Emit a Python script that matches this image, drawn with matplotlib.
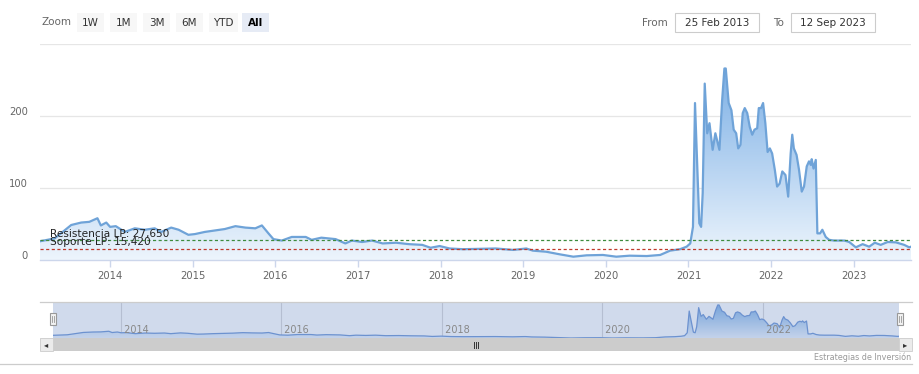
import matplotlib
matplotlib.use("Agg")
import matplotlib.pyplot as plt
import matplotlib.dates as mdates
import matplotlib.transforms as mtransforms
from matplotlib.patches import Rectangle
from matplotlib.lines import Line2D
import numpy as np
import pandas as pd

# ---------------- data ----------------
dates = [
    "2013-02-25", "2013-05-01", "2013-07-13", "2013-08-26", "2013-10-01", "2013-11-06",
    "2013-11-21", "2013-12-15", "2014-01-01", "2014-01-26", "2014-03-07", "2014-04-20",
    "2014-06-03", "2014-07-17", "2014-08-15", "2014-09-28", "2014-10-31", "2014-12-13",
    "2015-01-11", "2015-02-24", "2015-04-09", "2015-05-23", "2015-07-09", "2015-08-22",
    "2015-10-05", "2015-11-03", "2015-12-02", "2015-12-24", "2016-01-30", "2016-03-14",
    "2016-05-15", "2016-06-10", "2016-07-23", "2016-09-24", "2016-11-06", "2016-12-05",
    "2017-01-19", "2017-03-04", "2017-04-20", "2017-06-18", "2017-08-15", "2017-10-12",
    "2017-11-18", "2017-12-28", "2018-02-10", "2018-04-09", "2018-06-21", "2018-09-02",
    "2018-11-18", "2019-01-15", "2019-02-13", "2019-04-13", "2019-06-10", "2019-08-11",
    "2019-10-09", "2019-12-20", "2020-02-17", "2020-04-16", "2020-07-01", "2020-08-29",
    "2020-10-12", "2020-11-25", "2020-12-24", "2021-01-09", "2021-01-21", "2021-01-30",
    "2021-02-08", "2021-02-18", "2021-02-26", "2021-03-05", "2021-03-14", "2021-03-25",
    "2021-04-04", "2021-04-18", "2021-04-30", "2021-05-18", "2021-05-30", "2021-06-09",
    "2021-06-15", "2021-06-28", "2021-07-10", "2021-07-20", "2021-07-31", "2021-08-09",
    "2021-08-19", "2021-08-29", "2021-09-07", "2021-09-18", "2021-09-29", "2021-10-10",
    "2021-10-20", "2021-11-01", "2021-11-08", "2021-11-18", "2021-11-27", "2021-12-07",
    "2021-12-17", "2021-12-27", "2022-01-06", "2022-01-18", "2022-01-28", "2022-02-08",
    "2022-02-20", "2022-03-06", "2022-03-18", "2022-03-29", "2022-04-05", "2022-04-12",
    "2022-04-24", "2022-05-05", "2022-05-17", "2022-05-27", "2022-06-08", "2022-06-18",
    "2022-06-26", "2022-06-30", "2022-07-08", "2022-07-18", "2022-07-25", "2022-08-06",
    "2022-08-16", "2022-08-31", "2022-09-15", "2022-10-07", "2022-11-21", "2022-12-13",
    "2023-01-11", "2023-02-10", "2023-03-11", "2023-04-05", "2023-05-01", "2023-06-01",
    "2023-07-07", "2023-08-13", "2023-09-04", "2023-09-12",
]
values = [
    26, 30, 48.6, 52, 53, 58,
    48, 52, 46, 47, 39, 44,
    42, 44, 39, 45, 42, 35,
    36, 39, 41, 43, 47, 45,
    44, 48, 37, 29, 27, 32,
    32, 28, 31, 29, 23, 27,
    25, 27, 23, 24, 22, 21,
    17, 19.4, 16, 15, 15.5, 16,
    14, 16, 13, 11.5, 8, 4.6,
    6.5, 7, 4.6, 6, 5.5, 7,
    13, 15, 18.5, 23, 46, 218,
    139, 51, 46, 93, 245, 176,
    190, 153, 176, 153, 222, 266,
    266, 218, 208, 181, 176, 155,
    160, 204, 211, 204, 185, 174,
    181, 183, 211, 211, 218, 190,
    150, 155, 148, 125, 102, 106,
    123, 118, 88, 148, 174, 155,
    146, 125, 95, 102, 130, 137,
    132, 140, 127, 139, 37, 37,
    42, 32, 28, 27, 27, 25,
    17.6, 22, 18.5, 24, 21, 25,
    24.5, 21, 17.6, 18.5,
]

resistance_value = 27.65
support_value = 15.42
resistance_label = "Resistencia LP: 27,650"
support_label = "Soporte LP: 15,420"
y_tick_values = [0, 100, 200]
y_grid_values = [100, 200, 300]
x_tick_years = [2014, 2015, 2016, 2017, 2018, 2019, 2020, 2021, 2022, 2023]
nav_tick_years = [2014, 2016, 2018, 2020, 2022]
range_buttons = ["1W", "1M", "3M", "6M", "YTD", "All"]
selected_button = "All"
from_date = "25 Feb 2013"
to_date = "12 Sep 2023"
credit = "Estrategias de Inversión"

# ---------------- figure ----------------
W, H = 919, 374
fig = plt.figure(figsize=(W / 100, H / 100), dpi=100)
fig.patch.set_facecolor("white")
FONT = "DejaVu Sans"
plt.rcParams["font.family"] = [FONT]


def fx(px):
    return px / W


def fy(py):
    return 1 - py / H


x = mdates.date2num(pd.to_datetime(dates))
v = np.array(values, dtype=float)

# ---------------- main axes ----------------
L, R, T, B = 40, 911, 44, 260
ax = fig.add_axes([fx(L), fy(B), (R - L) / W, (B - T) / H])
ax.set_xlim(x[0], x[-1])
ax.set_ylim(0, 300)
ax.set_facecolor("none")

for g in y_grid_values:
    ax.axhline(g, color="#e6e6e6", lw=0.9, zorder=0)

# gradient area
vmax = v.max()
top_c = np.array([0.49, 0.69, 0.90])
bot_c = np.array([0.93, 0.96, 0.99])
n = 256
t = np.linspace(0, 1, n)[:, None]
grad = (top_c[None, :] * (1 - t) + bot_c[None, :] * t)[:, None, :]
fill = ax.fill_between(x, v, 0, color="none", lw=0)
im = ax.imshow(grad, extent=[x[0], x[-1], 0, vmax], aspect="auto", zorder=1,
               origin="upper", interpolation="bilinear")
path = fill.get_paths()[0]
im.set_clip_path(path, transform=ax.transData)
ax.set_xlim(x[0], x[-1])
ax.set_ylim(0, 300)

ax.plot(x, v, color="#6fa3d8", lw=1.6, zorder=3, solid_joinstyle="round")

ax.axhline(resistance_value, color="#3d8b3d", lw=0.9, ls=(0, (2.5, 2)), zorder=4)
ax.axhline(support_value, color="#c0392b", lw=0.9, ls=(0, (2.5, 2)), zorder=4)

lbl_x = (50 - L) / (R - L)
tr = mtransforms.offset_copy(ax.get_yaxis_transform(), fig=fig, y=2.5, units="points")
ax.text(lbl_x, resistance_value, resistance_label, transform=tr, ha="left",
        va="baseline", fontsize=7.6, color="#222222", zorder=5)
ax.text(lbl_x, support_value, support_label, transform=tr, ha="left",
        va="baseline", fontsize=7.6, color="#222222", zorder=5)

for s in ["top", "left", "right"]:
    ax.spines[s].set_visible(False)
ax.spines["bottom"].set_color("#ccd6eb")
ax.spines["bottom"].set_linewidth(1)

ax.set_yticks([])
ytr = mtransforms.offset_copy(ax.get_yaxis_transform(), fig=fig, y=3, units="points")
for yv in y_tick_values:
    ax.text((28 - L) / (R - L), yv, str(yv), transform=ytr, ha="right", va="center",
            fontsize=7.2, color="#666666")

xt = mdates.date2num(pd.to_datetime([f"{yr}-01-01" for yr in x_tick_years]))
ax.set_xticks(xt)
ax.set_xticklabels([str(yr) for yr in x_tick_years])
ax.tick_params(axis="x", length=5, width=1, color="#ccd6eb", labelsize=7.2,
               labelcolor="#666666", pad=3)

# ---------------- range selector ----------------
fig.text(fx(42), fy(22), "Zoom", ha="left", va="center", fontsize=7.5, color="#666666")
for i, lab in enumerate(range_buttons):
    bx = 77 + 33 * i
    bw = 27 + (2 if lab == "YTD" else 0)
    sel = lab == selected_button
    fig.patches.append(Rectangle((fx(bx), fy(32)), bw / W, 19 / H, transform=fig.transFigure,
                                 facecolor="#e6ebf5" if sel else "#f7f7f7",
                                 edgecolor="none", zorder=1))
    fig.text(fx(bx + bw / 2), fy(22.5), lab, ha="center", va="center", fontsize=7.5,
             color="#000000" if sel else "#333333", fontweight="bold" if sel else "normal")

fig.text(fx(668), fy(22.5), "From", ha="right", va="center", fontsize=7.5, color="#666666")
fig.text(fx(784), fy(22.5), "To", ha="right", va="center", fontsize=7.5, color="#666666")
for (x0, x1, txt) in [(675, 759, from_date), (791, 875, to_date)]:
    fig.patches.append(Rectangle((fx(x0), fy(32)), (x1 - x0) / W, 19 / H,
                                 transform=fig.transFigure, facecolor="white",
                                 edgecolor="#cccccc", lw=0.8, zorder=1))
    fig.text(fx((x0 + x1) / 2), fy(22.5), txt, ha="center", va="center", fontsize=7.5,
             color="#333333")

# ---------------- navigator ----------------
NL, NR, NT, NB = 53, 899, 302, 338
nav = fig.add_axes([fx(NL), fy(NB), (NR - NL) / W, (NB - NT) / H])
nav.set_xlim(x[0], x[-1])
nmin = v.min()
nav.set_ylim(nmin, nmin + (vmax - nmin) * 1.09)
nav.set_facecolor("white")
for s in nav.spines.values():
    s.set_visible(False)
nav.set_xticks([])
nav.set_yticks([])
nxt = mdates.date2num(pd.to_datetime([f"{yr}-01-01" for yr in nav_tick_years]))
for xx, yr in zip(nxt, nav_tick_years):
    nav.axvline(xx, color="#d8d8d8", lw=0.8, zorder=0)
    nav.text(xx, 0.22, f" {yr}", transform=nav.get_xaxis_transform(), ha="left",
             va="center", fontsize=7, color="#888888", zorder=5)
nfill = nav.fill_between(x, v, nmin, color="none", lw=0)
nim = nav.imshow(grad, extent=[x[0], x[-1], nmin, vmax], aspect="auto", zorder=1,
                 origin="upper", interpolation="bilinear")
nim.set_clip_path(nfill.get_paths()[0], transform=nav.transData)
nav.set_xlim(x[0], x[-1])
nav.set_ylim(nmin, nmin + (vmax - nmin) * 1.09)
nav.plot(x, v, color="#6f98d6", lw=0.9, zorder=2)
nav.add_patch(Rectangle((0, 0), 1, 1, transform=nav.transAxes,
                        facecolor=(102 / 255, 133 / 255, 194 / 255, 0.3),
                        edgecolor="none", zorder=4))

# outline top line
fig.add_artist(Line2D([fx(40), fx(912)], [fy(302), fy(302)], color="#cccccc", lw=0.9))

# handles
for hx in (50, 897):
    fig.patches.append(Rectangle((fx(hx), fy(325)), 6 / W, 12 / H, transform=fig.transFigure,
                                 facecolor="#f2f2f2", edgecolor="#999999", lw=0.8, zorder=6))
    for dx in (2.3, 3.7):
        fig.add_artist(Line2D([fx(hx + dx), fx(hx + dx)], [fy(322), fy(316)],
                              color="#999999", lw=0.6, zorder=7))

# scrollbar
ST, SB = 338, 351
fig.patches.append(Rectangle((fx(40), fy(SB)), (912 - 40) / W, (SB - ST) / H,
                             transform=fig.transFigure, facecolor="#f2f2f2",
                             edgecolor="none", zorder=1))
fig.patches.append(Rectangle((fx(53), fy(SB)), (899 - 53) / W, (SB - ST) / H,
                             transform=fig.transFigure, facecolor="#cccccc",
                             edgecolor="none", zorder=2))
for bx in (40, 899):
    fig.patches.append(Rectangle((fx(bx), fy(SB)), 13 / W, (SB - ST) / H,
                                 transform=fig.transFigure, facecolor="#ebebeb",
                                 edgecolor="#cccccc", lw=0.6, zorder=3))
fig.text(fx(46.5), fy(344.5), "◂", ha="center", va="center", fontsize=6, color="#333333")
fig.text(fx(905.5), fy(344.5), "▸", ha="center", va="center", fontsize=6, color="#333333")
for gx in (474, 476, 478):
    fig.add_artist(Line2D([fx(gx), fx(gx)], [fy(341.5), fy(347.5)], color="#333333",
                          lw=0.7, zorder=4))

# bottom container line + credit
fig.add_artist(Line2D([fx(0), fx(912)], [fy(364), fy(364)], color="#cccccc", lw=0.9))
fig.text(fx(911), fy(357), credit, ha="right", va="center", fontsize=5.8, color="#999999")

fig.savefig("out.png", dpi=100, facecolor="white")
